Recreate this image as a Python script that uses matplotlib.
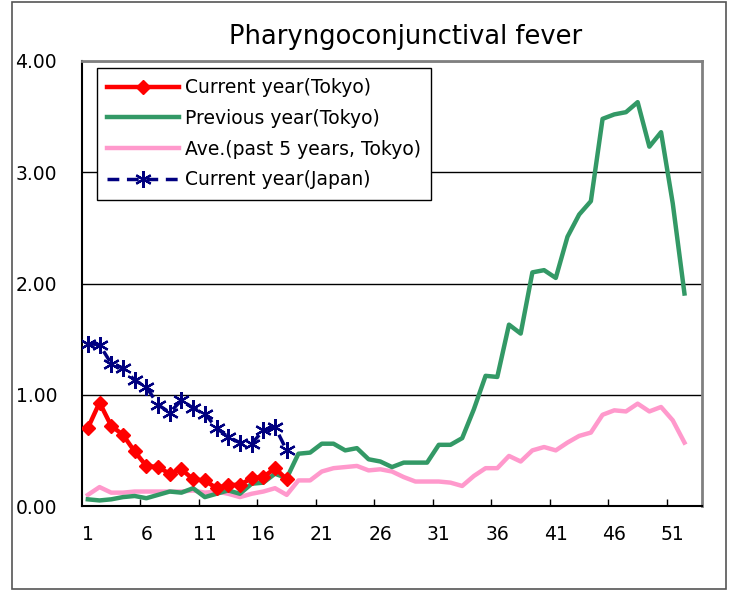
import numpy as np
import matplotlib
matplotlib.use("Agg")
import matplotlib.pyplot as plt
from matplotlib.patches import Rectangle

# weekly values (per sentinel)
weeks = list(range(1, 53))

current_tokyo = [0.70, 0.93, 0.72, 0.64, 0.49, 0.36, 0.35, 0.29, 0.33, 0.24,
                 0.23, 0.16, 0.19, 0.19, 0.25, 0.26, 0.34, 0.24]

previous_tokyo = [0.06, 0.05, 0.06, 0.08, 0.09, 0.07, 0.10, 0.13, 0.12, 0.16,
                  0.08, 0.11, 0.14, 0.11, 0.20, 0.21, 0.29, 0.25, 0.47, 0.48,
                  0.56, 0.56, 0.50, 0.52, 0.42, 0.40, 0.35, 0.39, 0.39, 0.39,
                  0.55, 0.55, 0.61, 0.87, 1.17, 1.16, 1.63, 1.55, 2.10, 2.12,
                  2.05, 2.42, 2.62, 2.74, 3.48, 3.52, 3.54, 3.63, 3.23, 3.36,
                  2.72, 1.91]

avg_5yr = [0.10, 0.17, 0.12, 0.12, 0.13, 0.13, 0.13, 0.13, 0.13, 0.14,
           0.12, 0.13, 0.11, 0.08, 0.11, 0.13, 0.16, 0.10, 0.23, 0.23,
           0.31, 0.34, 0.35, 0.36, 0.32, 0.33, 0.31, 0.26, 0.22, 0.22,
           0.22, 0.21, 0.18, 0.27, 0.34, 0.34, 0.45, 0.40, 0.50, 0.53,
           0.50, 0.57, 0.63, 0.66, 0.82, 0.86, 0.85, 0.92, 0.85, 0.89,
           0.77, 0.57]

current_japan = [1.46, 1.45, 1.28, 1.24, 1.13, 1.07, 0.91, 0.84, 0.95, 0.88,
                 0.83, 0.70, 0.62, 0.57, 0.56, 0.68, 0.71, 0.50]

xtick_labels = ["1", "6", "11", "16", "21", "26", "31", "36", "41", "46", "51"]

plt.rcParams['font.family'] = ['DejaVu Sans']

fig = plt.figure(figsize=(7.36, 5.91), dpi=100)
ax = fig.add_axes([82 / 736, 1 - 506 / 591, (702 - 82) / 736, (506 - 61) / 591])

ax.plot(weeks, avg_5yr, color="#FF99CC", lw=3.2,
        label="Ave.(past 5 years, Tokyo)", zorder=3)
ax.plot(weeks, previous_tokyo, color="#339966", lw=3.2,
        label="Previous year(Tokyo)", zorder=4)
ax.plot(weeks[:len(current_tokyo)], current_tokyo, color="#FF0000", lw=3.2,
        marker="D", markersize=7, label="Current year(Tokyo)", zorder=5)
ax.plot(weeks[:len(current_japan)], current_japan, color="#000080", lw=2.5,
        linestyle=(0, (3.4, 2.2)), marker=(6, 2, 0), markersize=12,
        markeredgewidth=1.6, label="Current year(Japan)", zorder=6)

ax.set_xlim(0.5, 53.5)
ax.set_ylim(0, 4)

# category axis: labels at weeks 1, 6, ..., ticks on boundaries
ax.set_xticks([int(s) for s in xtick_labels])
ax.set_xticklabels(xtick_labels, fontsize=13.5)
ax.set_xticks(np.arange(5.5, 53, 5), minor=True)
ax.tick_params(axis="x", which="major", length=0, pad=14)
ax.tick_params(axis="x", which="minor", length=5, direction="in", width=1)

ax.set_yticks([0, 1, 2, 3, 4])
ax.set_yticklabels(["0.00", "1.00", "2.00", "3.00", "4.00"], fontsize=13.5)
ax.tick_params(axis="y", length=0, pad=18)
ax.yaxis.grid(True, color="black", lw=1)
ax.set_axisbelow(True)

for side in ["left", "bottom"]:
    ax.spines[side].set_color("black")
    ax.spines[side].set_linewidth(1.5)
for side in ["top", "right"]:
    ax.spines[side].set_color("#808080")
    ax.spines[side].set_linewidth(2)

fig.text(406 / 736, 1 - 37 / 591, "Pharyngoconjunctival fever",
         ha="center", va="center", fontsize=18.5)

handles, labels = ax.get_legend_handles_labels()
order = [2, 1, 0, 3]
leg = fig.legend([handles[i] for i in order], [labels[i] for i in order],
                 loc="upper left", bbox_to_anchor=(97 / 736, 1 - 68 / 591),
                 borderaxespad=0, fontsize=13.5, handlelength=3.8,
                 handletextpad=0.35, labelspacing=0.62, borderpad=0.55,
                 fancybox=False, framealpha=1, edgecolor="black")
leg.get_frame().set_linewidth(1)

# chart area border
fig.patches.append(Rectangle((12 / 736, 2 / 591), (726 - 12) / 736, (589 - 2) / 591,
                             transform=fig.transFigure, fill=False,
                             edgecolor="#555555", lw=1.2))

fig.savefig("out.png", dpi=100)
